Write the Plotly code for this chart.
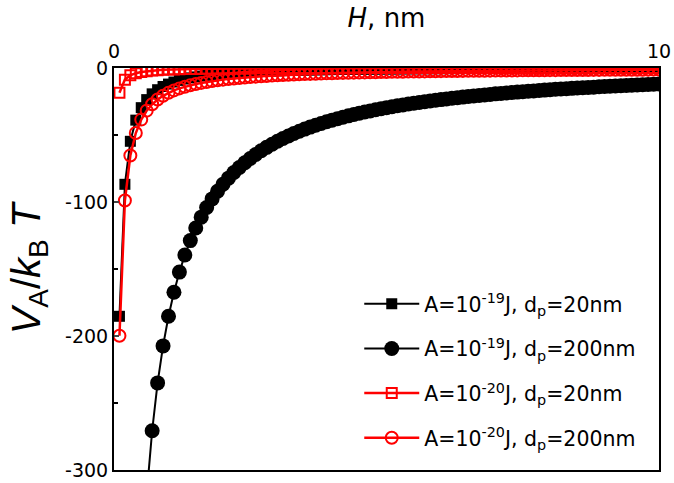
import plotly.graph_objects as go

H_nm = [0.1, 0.2, 0.3, 0.4, 0.5, 0.6, 0.7, 0.8, 0.9, 1.0,
        1.1, 1.2, 1.3, 1.4, 1.5, 1.6, 1.7, 1.8, 1.9, 2.0,
        2.1, 2.2, 2.3, 2.4, 2.5, 2.6, 2.7, 2.8, 2.9, 3.0,
        3.1, 3.2, 3.3, 3.4, 3.5, 3.6, 3.7, 3.8, 3.9, 4.0,
        4.1, 4.2, 4.3, 4.4, 4.5, 4.6, 4.7, 4.8, 4.9, 5.0,
        5.1, 5.2, 5.3, 5.4, 5.5, 5.6, 5.7, 5.8, 5.9, 6.0,
        6.1, 6.2, 6.3, 6.4, 6.5, 6.6, 6.7, 6.8, 6.9, 7.0,
        7.1, 7.2, 7.3, 7.4, 7.5, 7.6, 7.7, 7.8, 7.9, 8.0,
        8.1, 8.2, 8.3, 8.4, 8.5, 8.6, 8.7, 8.8, 8.9, 9.0,
        9.1, 9.2, 9.3, 9.4, 9.5, 9.6, 9.7, 9.8, 9.9, 10.0]

# A=1e-19 J, dp=20 nm
V_A19_d20 = [-185.3, -86.8, -54.7, -38.9, -29.6, -23.6, -19.3, -16.2, -13.8, -12.0,
             -10.47, -9.25, -8.23, -7.37, -6.64, -6.02, -5.48, -5.01, -4.59, -4.22,
             -3.90, -3.61, -3.35, -3.11, -2.90, -2.71, -2.53, -2.37, -2.23, -2.10,
             -1.97, -1.86, -1.75, -1.66, -1.57, -1.49, -1.41, -1.34, -1.27, -1.21,
             -1.15, -1.09, -1.04, -0.99, -0.95, -0.91, -0.87, -0.83, -0.79, -0.76,
             -0.73, -0.70, -0.67, -0.64, -0.62, -0.59, -0.57, -0.55, -0.52, -0.51,
             -0.49, -0.47, -0.45, -0.43, -0.42, -0.40, -0.39, -0.38, -0.36, -0.35,
             -0.34, -0.33, -0.32, -0.31, -0.30, -0.29, -0.28, -0.27, -0.26, -0.25,
             -0.245, -0.24, -0.23, -0.225, -0.22, -0.21, -0.205, -0.20, -0.195, -0.19,
             -0.185, -0.18, -0.175, -0.17, -0.165, -0.16, -0.155, -0.15, -0.145, -0.14]

# A=1e-19 J, dp=200 nm
V_A19_d200 = [-1998.5, -988.8, -653.0, -485.4, -385.0, -318.3, -270.7, -235.0, -207.4, -185.3,
              -167.3, -152.3, -139.6, -128.8, -119.4, -111.3, -104.1, -97.7, -92.0, -86.8,
              -82.2, -78.0, -74.2, -70.7, -67.5, -64.5, -61.8, -59.2, -56.9, -54.7,
              -52.6, -50.7, -48.9, -47.2, -45.6, -44.1, -42.7, -41.4, -40.1, -38.9,
              -37.8, -36.7, -35.7, -34.7, -33.7, -32.8, -32.0, -31.2, -30.4, -29.6,
              -28.9, -28.2, -27.6, -26.9, -26.3, -25.7, -25.2, -24.6, -24.1, -23.6,
              -23.1, -22.6, -22.2, -21.7, -21.3, -20.9, -20.5, -20.1, -19.7, -19.3,
              -19.0, -18.6, -18.3, -18.0, -17.7, -17.3, -17.1, -16.8, -16.5, -16.2,
              -15.9, -15.7, -15.4, -15.2, -14.9, -14.7, -14.5, -14.3, -14.0, -13.8,
              -13.6, -13.4, -13.2, -13.0, -12.8, -12.6, -12.5, -12.3, -12.1, -11.9]

# A=1e-20 J, dp=20 nm
V_A20_d20 = [-18.53, -8.68, -5.47, -3.89, -2.96, -2.36, -1.93, -1.62, -1.38, -1.20,
             -1.047, -0.925, -0.823, -0.737, -0.664, -0.602, -0.548, -0.501, -0.459, -0.422,
             -0.390, -0.361, -0.335, -0.311, -0.290, -0.271, -0.253, -0.237, -0.223, -0.210,
             -0.197, -0.186, -0.175, -0.166, -0.157, -0.149, -0.141, -0.134, -0.127, -0.121,
             -0.115, -0.109, -0.104, -0.099, -0.095, -0.091, -0.087, -0.083, -0.079, -0.076,
             -0.073, -0.070, -0.067, -0.064, -0.062, -0.059, -0.057, -0.055, -0.052, -0.051,
             -0.049, -0.047, -0.045, -0.043, -0.042, -0.040, -0.039, -0.038, -0.036, -0.035,
             -0.034, -0.033, -0.032, -0.031, -0.030, -0.029, -0.028, -0.027, -0.026, -0.025,
             -0.0245, -0.024, -0.023, -0.0225, -0.022, -0.021, -0.0205, -0.020, -0.0195, -0.019,
             -0.0185, -0.018, -0.0175, -0.017, -0.0165, -0.016, -0.0155, -0.015, -0.0145, -0.014]

# A=1e-20 J, dp=200 nm
V_A20_d200 = [-199.85, -98.88, -65.30, -48.54, -38.50, -31.83, -27.07, -23.50, -20.74, -18.53,
              -16.73, -15.23, -13.96, -12.88, -11.94, -11.13, -10.41, -9.77, -9.20, -8.68,
              -8.22, -7.80, -7.42, -7.07, -6.75, -6.45, -6.18, -5.92, -5.69, -5.47,
              -5.26, -5.07, -4.89, -4.72, -4.56, -4.41, -4.27, -4.14, -4.01, -3.89,
              -3.78, -3.67, -3.57, -3.47, -3.37, -3.28, -3.20, -3.12, -3.04, -2.96,
              -2.89, -2.82, -2.76, -2.69, -2.63, -2.57, -2.52, -2.46, -2.41, -2.36,
              -2.31, -2.26, -2.22, -2.17, -2.13, -2.09, -2.05, -2.01, -1.97, -1.93,
              -1.90, -1.86, -1.83, -1.80, -1.77, -1.73, -1.71, -1.68, -1.65, -1.62,
              -1.59, -1.57, -1.54, -1.52, -1.49, -1.47, -1.45, -1.43, -1.40, -1.38,
              -1.36, -1.34, -1.32, -1.30, -1.28, -1.26, -1.25, -1.23, -1.21, -1.19]

names = ["A=10<sup>-19</sup>J, d<sub>p</sub>=20nm",
         "A=10<sup>-19</sup>J, d<sub>p</sub>=200nm",
         "A=10<sup>-20</sup>J, d<sub>p</sub>=20nm",
         "A=10<sup>-20</sup>J, d<sub>p</sub>=200nm"]

x_ticks = [0, 10]
x_ticktext = ["0", "10"]
y_ticks = [0, -100, -200, -300]
y_ticktext = ["0", "-100", "-200", "-300"]

FONT = "DejaVu Sans, Liberation Sans, sans-serif"

fig = go.Figure()
fig.add_trace(go.Scatter(x=H_nm, y=V_A19_d20, mode="lines+markers", name=names[0],
                         line=dict(color="black", width=2),
                         marker=dict(symbol="square", size=11, color="black"),
                         legendgroup="a"))
fig.add_trace(go.Scatter(x=H_nm, y=V_A19_d200, mode="lines+markers", name=names[1],
                         line=dict(color="black", width=2),
                         marker=dict(symbol="circle", size=15, color="black"),
                         legendgroup="b"))
fig.add_trace(go.Scatter(x=H_nm, y=V_A20_d20, mode="lines+markers", name=names[2],
                         line=dict(color="red", width=2.5),
                         marker=dict(symbol="square-open", size=10, color="red",
                                     line=dict(width=2, color="red")),
                         legendgroup="c"))
fig.add_trace(go.Scatter(x=H_nm, y=V_A20_d200, mode="lines+markers", name=names[3],
                         line=dict(color="red", width=2.5),
                         marker=dict(symbol="circle-open", size=12, color="red",
                                     line=dict(width=2, color="red")),
                         legendgroup="d"))

fig.update_layout(
    width=674, height=483,
    margin=dict(l=114, r=15, t=68, b=13),
    paper_bgcolor="white", plot_bgcolor="white",
    font=dict(family=FONT, size=19, color="black"),
    showlegend=True,
    legend=dict(x=0.45, y=0.4627, xanchor="left", yanchor="top",
                bgcolor="rgba(0,0,0,0)", borderwidth=0,
                font=dict(family=FONT, size=20.5, color="black"),
                traceorder="grouped", tracegroupgap=15, itemwidth=55),
    xaxis=dict(side="top", range=[0, 10], tickmode="array", tickvals=x_ticks,
               ticktext=x_ticktext, ticks="inside", ticklen=5, tickwidth=1.5,
               showline=True, linecolor="black", linewidth=2, mirror=True,
               showgrid=False, zeroline=False, automargin=False,
               tickfont=dict(family=FONT, size=19),
               title=dict(text="<i>H</i>, nm", font=dict(family=FONT, size=26), standoff=5)),
    yaxis=dict(range=[-300, 0], tickmode="array", tickvals=y_ticks,
               ticktext=y_ticktext, ticks="inside", ticklen=5,
               tickwidth=1.5, showline=True, linecolor="black", linewidth=2, mirror=True,
               showgrid=False, zeroline=False, automargin=False,
               minor=dict(tickvals=[-50, -150, -250], ticks="inside", ticklen=4,
                          tickwidth=1.5, tickcolor="black"),
               tickfont=dict(family=FONT, size=19),
               title=dict(text="<i>V</i><sub>A</sub>/<i>k</i><sub>B</sub> <i>T</i>",
                          font=dict(family="Liberation Sans, Arial, sans-serif", size=40),
                          standoff=12)),
)

fig.write_html("out.html")
